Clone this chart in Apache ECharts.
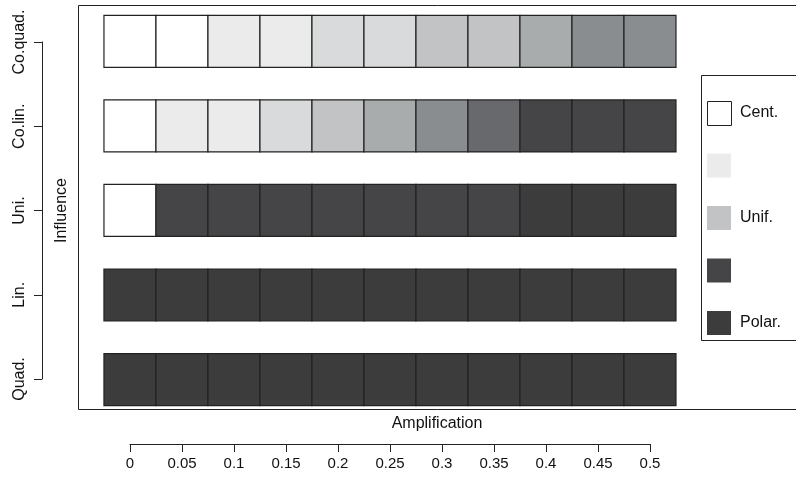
<!DOCTYPE html>
<html>
<head>
<meta charset="utf-8">
<script src="https://cdn.jsdelivr.net/npm/echarts@6/dist/echarts.min.js"></script>
<style>html,body{margin:0;padding:0;background:#fff}#chart{width:796px;height:481px}</style>
</head>
<body>
<div id="chart"></div>
<script>
// amplification values (x) and influence types (y, bottom to top)
const amplification = [0, 0.05, 0.1, 0.15, 0.2, 0.25, 0.3, 0.35, 0.4, 0.45, 0.5];
const influence = ["Quad.", "Lin.", "Uni.", "Co.lin.", "Co.quad."];

// grey level of each cell, index into palette (0 = Cent., 8 = Polar.)
const quadLevels   = [8, 8, 8, 8, 8, 8, 8, 8, 8, 8, 8];
const linLevels    = [8, 8, 8, 8, 8, 8, 8, 8, 8, 8, 8];
const uniLevels    = [0, 7, 7, 7, 7, 7, 7, 7, 8, 8, 8];
const colinLevels  = [0, 1, 1, 2, 3, 4, 5, 6, 7, 7, 7];
const coquadLevels = [0, 0, 1, 1, 2, 2, 3, 3, 4, 5, 5];

const palette = ["#ffffff", "#eaebea", "#d9dadb", "#c2c3c4", "#a9acad", "#8a8d90", "#68696c", "#454547", "#3c3c3c"];

const legendNames = ["Cent.", "", "Unif.", "", "Polar."];
const legendLevels = [0, 1, 3, 7, 8];

const rows = [quadLevels, linLevels, uniLevels, colinLevels, coquadLevels];
const cells = [];
rows.forEach((levels, r) => {
  levels.forEach((lv, c) => cells.push([amplification[c], r, lv]));
});

const chart = echarts.init(document.getElementById("chart"));

const font = "Liberation Sans, Arial, sans-serif";
const graphics = [{
  type: "polyline",
  shape: { points: [[800, 5.5], [78.5, 5.5], [78.5, 409.5], [800, 409.5]] },
  style: { fill: null, stroke: "#222", lineWidth: 1 }
}, {
  type: "rect", left: 701, top: 75,
  shape: { width: 120, height: 265 },
  style: { fill: "#fff", stroke: "#222", lineWidth: 1 }
}];
legendLevels.forEach((lv, i) => {
  const y = 101 + i * 52.5;
  graphics.push({
    type: "rect", left: 707, top: y,
    shape: { width: 24, height: 24 },
    style: { fill: palette[lv], stroke: lv === 0 ? "#222" : null, lineWidth: 1 }
  });
  if (legendNames[i]) {
    graphics.push({
      type: "text", left: 740, top: y + 4,
      style: { text: legendNames[i], fontSize: 16, fontFamily: font, fill: "#111" }
    });
  }
});

const option = {
  animation: false,
  grid: [
    { left: 79, top: 5, right: 0, height: 405, show: false },
    { left: 130, top: 100, width: 520, height: 344, show: false },
    { left: 42, top: 42, width: 300, height: 337, show: false }
  ],
  xAxis: [
    { gridIndex: 0, type: "value", min: -0.049, max: 0.6404, show: false },
    { gridIndex: 1, type: "value", min: 0, max: 0.5, interval: 0.05, position: "bottom",
      name: "Amplification", nameLocation: "middle", nameGap: -28,
      nameTextStyle: { fontSize: 16, fontFamily: font, color: "#111", padding: [0, 0, 0, 94] },
      axisLine: { lineStyle: { color: "#222" } }, axisTick: { length: 8, lineStyle: { color: "#222" } },
      axisLabel: { fontSize: 15, fontFamily: font, color: "#111", margin: 12, formatter: v => String(+v.toFixed(2)) },
      splitLine: { show: false } },
    { gridIndex: 2, type: "value", show: false }
  ],
  yAxis: [
    { gridIndex: 0, type: "value", min: -0.36, max: 4.43, show: false },
    { gridIndex: 1, type: "value", show: false },
    { gridIndex: 2, type: "value", min: 0, max: 4, interval: 1, position: "left",
      name: "Influence", nameLocation: "middle", nameGap: -28, nameRotate: 90,
      nameTextStyle: { fontSize: 16, fontFamily: font, color: "#111" },
      axisLine: { lineStyle: { color: "#222" } }, axisTick: { length: 8, lineStyle: { color: "#222" } },
      axisLabel: { fontSize: 16, fontFamily: font, color: "#111", rotate: 90, margin: 14, formatter: v => influence[v] },
      splitLine: { show: false } }
  ],
  graphic: graphics,
  series: [{
    type: "scatter", xAxisIndex: 0, yAxisIndex: 0,
    symbol: "rect", symbolSize: [52, 52],
    data: cells,
    itemStyle: {
      color: p => palette[p.data[2]],
      borderColor: "#222", borderWidth: 1.2, opacity: 1
    }
  }]
};

chart.setOption(option);
</script>
</body>
</html>
